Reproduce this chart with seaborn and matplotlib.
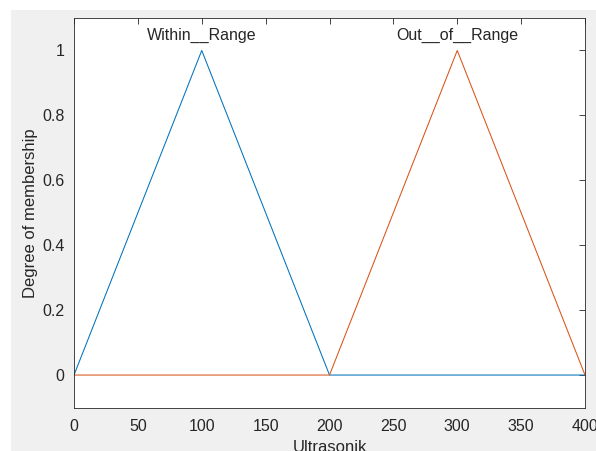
import matplotlib
matplotlib.use("Agg")
import matplotlib.pyplot as plt
import pandas as pd
import seaborn as sns
from matplotlib.patches import Rectangle

# membership function points (trimf)
within_x = [0, 100, 200, 400]
within_y = [0, 1, 0, 0]
out_x = [0, 200, 300, 400]
out_y = [0, 0, 1, 0]
mf_names = ["Within__Range", "Out__of__Range"]
mf_peaks = [100, 300]

sns.set_style("white")
plt.rcParams["font.family"] = ["Liberation Sans", "DejaVu Sans"]

df = pd.concat([
    pd.DataFrame({"x": within_x, "y": within_y, "mf": mf_names[0]}),
    pd.DataFrame({"x": out_x, "y": out_y, "mf": mf_names[1]}),
])

fig = plt.figure(figsize=(5.96, 4.51), dpi=100)
fig.patch.set_facecolor("white")
# matlab gray figure panel, behind the axes
bg = Rectangle((11 / 596, 0), 1, 1 - 10 / 451, transform=fig.transFigure,
               facecolor="#f0f0f0", edgecolor="none", zorder=-10)
fig.add_artist(bg)

ax = fig.add_axes([74 / 596, 1 - 407.5 / 451, 511 / 596, 389.5 / 451])
ax.set_facecolor("white")

sns.lineplot(data=df, x="x", y="y", hue="mf", palette=["#0072BD", "#D95319"],
             sort=False, estimator=None, linewidth=0.75, legend=False, ax=ax)

for name, px in zip(mf_names, mf_peaks):
    ax.text(px, 1.045, name, ha="center", va="center", fontsize=11.5, color="#262626")

ax.set_xlim(0, 400)
ax.set_ylim(-0.1, 1.1)
ax.set_xticks([0, 50, 100, 150, 200, 250, 300, 350, 400])
ax.set_yticks([0, 0.2, 0.4, 0.6, 0.8, 1])
ax.set_yticklabels(["0", "0.2", "0.4", "0.6", "0.8", "1"])
ax.tick_params(direction="in", top=True, right=True, length=4, width=0.6,
               colors="#262626", labelsize=11.5)
ax.tick_params(axis="x", pad=8)
ax.tick_params(axis="y", pad=7)
for s in ax.spines.values():
    s.set_color("#262626")
    s.set_linewidth(0.6)
    s.set_visible(True)

ax.set_xlabel("Ultrasonik", fontsize=12, color="#262626", va="center")
ax.set_ylabel("Degree of membership", fontsize=12, color="#262626", va="center")
ax.xaxis.set_label_coords(0.5, (407.5 - 447) / 389.5)
ax.yaxis.set_label_coords((31 - 74) / 511, 0.5)

fig.savefig("out.png", dpi=100, facecolor=fig.get_facecolor())
